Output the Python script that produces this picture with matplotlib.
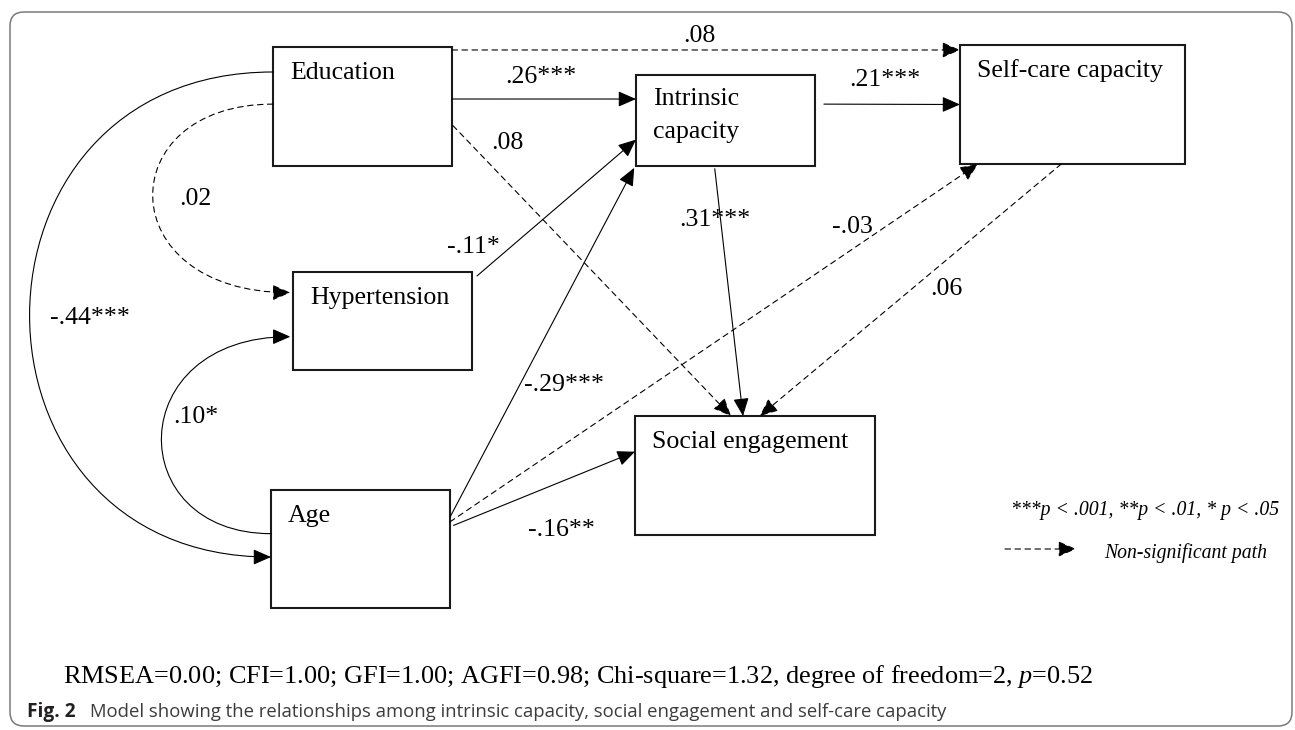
import numpy as np
import matplotlib.pyplot as plt
from matplotlib.patches import Rectangle, FancyArrowPatch, FancyBboxPatch
from matplotlib.path import Path

plt.rcParams["mathtext.fontset"] = "custom"
plt.rcParams["mathtext.rm"] = "Liberation Serif"
plt.rcParams["mathtext.it"] = "Liberation Serif:italic"

# --- model content ---
node_keys = ["edu", "intr", "self", "hyp", "age", "soc"]
node_labels = ["Education", "Intrinsic\ncapacity", "Self-care capacity",
               "Hypertension", "Age", "Social engagement"]

# paths: source, target, standardised coefficient, significant?
path_src = ["edu", "edu", "intr", "edu", "hyp", "age", "intr", "age", "self", "age"]
path_dst = ["self", "intr", "self", "soc", "intr", "intr", "soc", "self", "soc", "soc"]
path_coef = [".08", ".26***", ".21***", ".08", "-.11*", "-.29***", ".31***", "-.03", ".06", "-.16**"]
path_sig = [False, True, True, False, True, True, True, False, False, True]

# curved paths (correlations drawn as arcs on the left)
arc_src = ["edu", "edu", "age"]
arc_dst = ["age", "hyp", "hyp"]
arc_coef = ["-.44***", ".02", ".10*"]
arc_sig = [True, False, True]

fit_text = ("RMSEA=0.00; CFI=1.00; GFI=1.00; AGFI=0.98; Chi-square=1.32, "
            "degree of freedom=2, $p$=0.52")
sig_note = "***p < .001, **p < .01, * p < .05"
ns_note = "Non-significant path"
fig_no = "Fig. 2"
caption = "Model showing the relationships among intrinsic capacity, social engagement and self-care capacity"

# --- layout (pixel space) ---
box_x0 = [273, 636, 960, 293, 271, 635]
box_y0 = [47, 75, 45, 272, 490, 416]
box_x1 = [452, 815, 1185, 472, 450, 875]
box_y1 = [166, 166, 164, 370, 608, 535]
boxes = {k: (box_x0[i], box_y0[i], box_x1[i], box_y1[i]) for i, k in enumerate(node_keys)}

# anchor fractions (fx, fy) on source / target boxes
src_anchor = [(1.0, 0.025), (1.0, 0.437), (1.05, 0.32), (1.005, 0.66), (1.028, 0.04),
              (1.0, 0.23), (0.44, 1.03), (1.0, 0.27), (0.45, 1.0), (1.02, 0.30)]
dst_anchor = [(0.0, 0.042), (0.0, 0.264), (0.0, 0.50), (0.40, 0.0), (0.0, 0.71),
              (-0.01, 1.02), (0.45, 0.0), (0.08, 1.0), (0.52, 0.0), (0.0, 0.30)]
coef_pos = [(683, 36), (505, 77), (849, 80), (491, 143), (447, 247),
            (524, 385), (679, 220), (832, 227), (930, 289), (528, 530)]

arc_src_anchor = [(0.0, 0.21), (0.0, 0.48), (0.0, 0.37)]
arc_dst_anchor = [(0.0, 0.568), (-0.015, 0.21), (-0.015, 0.66)]
arc_ctrl_x = [-51, 110, 122]
arc_coef_pos = [(50, 318), (179, 199), (173, 417)]


def pt(key, fx, fy):
    x0, y0, x1, y1 = boxes[key]
    return x0 + fx * (x1 - x0), y0 + fy * (y1 - y0)


serif = "Liberation Serif"
fs = 18.6
head = "-|>,head_length=0.55,head_width=0.24"

fig = plt.figure(figsize=(12.95, 7.30), dpi=100)
ax = fig.add_axes([0, 0, 1, 1])
ax.set_xlim(0, 1295)
ax.set_ylim(730, 0)
ax.axis("off")

# outer frame
ax.add_patch(FancyBboxPatch((10, 12), 1282, 714, boxstyle="round,pad=0,rounding_size=14",
                            fc="none", ec="#7a7a7a", lw=1.1))

# boxes + labels (one text per line)
for i, k in enumerate(node_keys):
    x0, y0, x1, y1 = boxes[k]
    ax.add_patch(Rectangle((x0, y0), x1 - x0, y1 - y0, fc="white", ec="#1a1a1a", lw=1.5, zorder=2))
    for j, line in enumerate(node_labels[i].split("\n")):
        ax.text(x0 + 17, y0 + 26 + 33 * j - (2 if "\n" in node_labels[i] else 0), line,
                family=serif, fontsize=fs, ha="left", va="center", zorder=3)

# straight paths
for i in range(len(path_src)):
    p0 = pt(path_src[i], *src_anchor[i])
    p1 = pt(path_dst[i], *dst_anchor[i])
    ls = "-" if path_sig[i] else (0, (5, 4))
    ar = FancyArrowPatch(p0, p1, arrowstyle=head, mutation_scale=20, shrinkA=0, shrinkB=0,
                         color="black", lw=0.8, linestyle=ls, zorder=4)
    ax.add_patch(ar)
    ax.text(coef_pos[i][0], coef_pos[i][1], path_coef[i], family=serif, fontsize=fs,
            ha="left", va="center", zorder=5)

# curved paths
for i in range(len(arc_src)):
    p0 = pt(arc_src[i], *arc_src_anchor[i])
    p3 = pt(arc_dst[i], *arc_dst_anchor[i])
    c = arc_ctrl_x[i]
    verts = [p0, (c, p0[1]), (c, p3[1]), p3]
    codes = [Path.MOVETO, Path.CURVE4, Path.CURVE4, Path.CURVE4]
    ls = "-" if arc_sig[i] else (0, (5, 4))
    ar = FancyArrowPatch(path=Path(verts, codes), arrowstyle=head, mutation_scale=20,
                         color="black", lw=0.8, linestyle=ls, zorder=4)
    ax.add_patch(ar)
    ax.text(arc_coef_pos[i][0], arc_coef_pos[i][1], arc_coef[i], family=serif, fontsize=fs,
            ha="left", va="center", zorder=5)

# legend
ax.text(1011, 511, sig_note, family=serif, style="italic", fontsize=14.2, ha="left", va="center")
ax.add_patch(FancyArrowPatch((1005, 549), (1076, 549), arrowstyle=head, mutation_scale=20,
                             shrinkA=0, shrinkB=0, color="black", lw=0.8, linestyle=(0, (5, 4))))
ax.text(1104, 553, ns_note, family=serif, style="italic", fontsize=14.2, ha="left", va="center")

# fit indices
ax.text(63, 677, fit_text, family=serif, fontsize=18.9, ha="left", va="center")

# caption
ax.text(27, 712, fig_no, family="Open Sans", fontweight="bold", fontsize=13.8,
        color="#231f20", ha="left", va="center")
ax.text(90, 712, caption, family="Open Sans", fontsize=13.3, color="#3c3c3c",
        ha="left", va="center")

fig.savefig("out.png", dpi=100)
